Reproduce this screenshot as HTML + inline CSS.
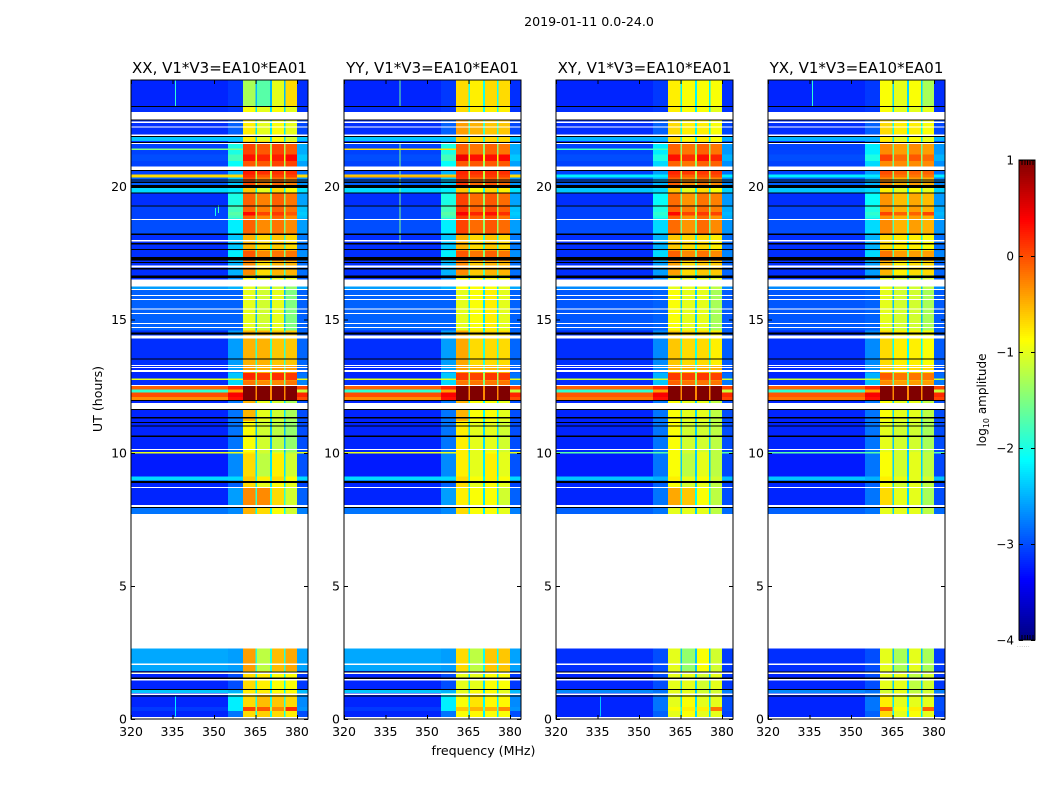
<!DOCTYPE html>
<html>
<head>
<meta charset="utf-8">
<title>2019-01-11 0.0-24.0</title>
<style>
html,body{margin:0;padding:0;background:#fff;width:1050px;height:800px;overflow:hidden}
svg{display:block}
text{font-family:"DejaVu Sans","Liberation Sans",sans-serif;fill:#000}
</style>
</head>
<body>
<svg id="chart" xmlns="http://www.w3.org/2000/svg" width="1050" height="800" viewBox="0 0 1050 800">
<text x="589" y="26" font-size="12.6" text-anchor="middle">2019-01-11 0.0-24.0</text>
<text x="483.5" y="755" font-size="12.6" text-anchor="middle">frequency (MHz)</text>
<text transform="translate(102,399) rotate(-90)" font-size="12.6" text-anchor="middle">UT (hours)</text>
<text transform="translate(986,400) rotate(-90)" font-size="12" text-anchor="middle">log<tspan font-size="8" dy="3">10</tspan><tspan dy="-3"> amplitude</tspan></text>
<text x="1017" y="647" font-size="5" letter-spacing="0.6" style="fill:#777">......</text>
</svg>
<script>
var panelTitles = ["XX, V1*V3=EA10*EA01","YY, V1*V3=EA10*EA01","XY, V1*V3=EA10*EA01","YX, V1*V3=EA10*EA01"];
var xTicks = [320,335,350,365,380];
var yTicks = [0,5,10,15,20];
var colorbarTicks = [1,0,-1,-2,-3,-4];
var colorbarMinorTicks = [1,2,3,4,5];
var freqRange = [320,384];
var hourRange = [0,24];
var levelRange = [-4,1];

// Frequency zones in MHz: background, transition, four sub-bands with narrow gaps, upper edge.
var zoneEdges = [320,355,360.5,365,365.6,370.3,371,375.4,375.9,380,384];
var zoneKinds = ["bg","tr","s0","gap","s1","gap","s2","gap","s3","edge"];

// Start hour of each time band; the last band ends at 24.
var rowStarts = [0,.3,.45,.98,1.09,1.8,2.65,7.7,8,8.72,8.95,9.1,9.97,10.03,11.2,11.97,12.1,12.27,12.37,12.53,12.7,12.74,12.78,13,13.3,14.6,16.15,16.5,16.68,17.2,17.6,18.2,18.8,18.92,19.05,19.3,19.77,19.96,20.33,20.45,20.76,20.95,21.2,21.6,21.7,21.88,22.8,23];

var backgroundCoPol = [-3.2,-3.1,-3.2,-2.4,-3.2,-2.55,-3.2,-2.8,-3.2,-3.2,-2.3,-3.25,-1,-3.2,-3.2,-.3,0,-1.9,-.1,-3.15,-3.15,-1,-3.2,-3.2,-3.15,-2.9,-2.6,-3.15,-3.15,-3.15,-3.15,-3,-3.05,-3.05,-3.05,-3.15,-2.3,-2.9,-.7,-3.05,-3.05,-3,-3.05,-3.15,-2.4,-3.15,-3.15,-3.2];
var backgroundCrossPol = [-3.2,-3.2,-3.2,-2.7,-3.2,-3.15,-3.2,-2.9,-3.2,-3.2,-2.4,-3.25,-1.7,-3.2,-3.2,-.2,-.05,-1.9,-.1,-3.15,-3.15,-1.1,-3.2,-3.2,-3.15,-2.95,-2.7,-3.15,-3.15,-3.15,-3.15,-3,-3.05,-3.05,-3.05,-3.15,-2.4,-2.9,-2.2,-3.05,-3.05,-3,-3.05,-3.15,-2.5,-3.15,-3.15,-3.2];
var transitionCoPol = [-2.8,-2.2,-2.2,-2.5,-3,-2.6,-2.8,-2.7,-2.6,-2.9,-2.3,-2.7,-1,-2.8,-2.8,.3,.4,-.4,.2,-2.3,-2.3,-1,-2.4,-2.6,-2.6,-2.9,-2.5,-2.7,-2.5,-2.2,-2.4,-2.2,-1.8,-1.7,-1.8,-2,-2.2,-2.4,-.7,-2.5,-2.1,-1.8,-2,-2.7,-2.4,-2.9,-3.1,-3.1];
var transitionCrossPol = [-2.9,-2.8,-2.8,-2.8,-3,-3,-2.9,-2.8,-2.8,-2.9,-2.5,-2.8,-1.7,-2.8,-2.8,.3,.4,-.4,.2,-2.4,-2.4,-1.1,-2.5,-2.7,-2.7,-2.9,-2.7,-2.7,-2.6,-2.3,-2.5,-2.3,-2,-1.9,-2,-2.1,-2.3,-2.5,-2.2,-2.6,-2.3,-2,-2.2,-2.8,-2.5,-2.9,-3.1,-3.1];

var subbandsXX = [[-.7,-.65,-.7,-.8],[.05,-.05,-.3,.15],[-.7,-.55,-.6,-.7],[-.8,-.8,-.9,-.9],[-.7,-.8,-.9,-.9],[-.4,-1.2,-.55,-.45],[-1,-1,-1,-1],[-.5,-.7,-.9,-1.1],[-.3,-.3,-.7,-1.1],[-.7,-1,-.9,-1],[-.6,-.8,-.7,-.9],[-.7,-1.2,-.8,-1.1],[-.8,-1.1,-1,-1.2],[-.9,-1.1,-1.2,-1.4],[-.5,-1,-1.1,-1.3],[1,1,1,1],[1,1,1,1],[1,1,1,1],[1,1,1,1],[-.2,-.3,-.3,-.2],[-.3,-.4,-.3,-.3],[.15,.1,.15,.1],[.2,.1,.15,.1],[-.4,-.5,-.4,-.4],[-.5,-.5,-.6,-.6],[-1,-1.1,-1,-1.5],[-1,-1.1,-1.1,-1.4],[-.9,-1,-1,-1],[-.3,-.7,-.5,-.5],[-.05,-.3,-.2,-.2],[-.5,-.7,-.6,-.7],[-.1,-.3,-.2,-.3],[-.1,-.3,-.1,-.3],[.35,.05,.1,-.05],[-.1,-.25,-.1,-.2],[-.1,-.25,-.1,-.2],[-.6,-1,-.7,-.9],[0,-.25,-.15,-.25],[.15,-.05,.05,.05],[.25,.15,.15,.15],[-.05,-.05,.05,.05],[.3,.2,.25,.35],[.05,-.05,.05,-.05],[-.6,-.7,-.7,-.8],[-.8,-1,-.9,-1.1],[-.8,-1,-.9,-1],[-.9,-1,-.9,-1],[-1.3,-1.7,-1,-.7]];
var subbandsYY = [[-.9,-.85,-.9,-.9],[-.6,-.5,-.5,-.3],[-.9,-.75,-.85,-.85],[-1,-.9,-.9,-1],[-1,-1,-.9,-.9],[-.7,-1.2,-.6,-.6],[-1,-1,-1,-1],[-.7,-.9,-.9,-1],[-.8,-.9,-.9,-1.1],[-.7,-1,-.9,-1],[-.7,-.9,-.8,-.9],[-.8,-1,-.8,-1],[-.8,-1,-.9,-1],[-.8,-1,-1,-1.1],[-.5,-.9,-.9,-1],[1,1,1,1],[1,1,1,1],[1,1,1,1],[1,1,1,1],[-.2,-.2,-.2,-.2],[-.3,-.3,-.3,-.3],[.1,.05,.1,.1],[.1,.05,.1,.1],[-.4,-.5,-.5,-.5],[-.45,-.7,-.7,-.7],[-1,-.9,-.8,-1],[-.9,-.9,-.9,-1],[-.9,-.9,-.9,-.9],[-.3,-.6,-.5,-.5],[-.05,-.2,-.1,-.2],[-.5,-.7,-.6,-.7],[.05,-.15,-.05,-.15],[.1,-.1,0,-.2],[.4,.2,.3,.15],[.1,-.1,0,-.1],[.05,-.15,-.05,-.15],[-.6,-.9,-.7,-.8],[.1,-.15,-.05,-.15],[.15,.05,.1,.05],[.2,.15,.15,.15],[-.05,-.05,-.05,-.05],[.45,.3,.3,.35],[-.1,-.2,-.1,-.2],[-.5,-.6,-.6,-.6],[-.6,-.7,-.7,-.7],[-.4,-.5,-.6,-.6],[-.7,-.8,-.8,-.8],[-.7,-.8,-.7,-.7]];
var subbandsXY = [[-1,-.9,-1,-1],[-.9,-.8,-.8,-.2],[-1,-.9,-1,-1],[-1,-1,-1.1,-1.1],[-1,-1,-1.1,-1],[-1,-1.4,-.9,-1.1],[-1,-1,-1,-1],[-1,-1,-1,-1.2],[-.45,-.6,-.9,-1.2],[-.9,-1.1,-1,-1.2],[-.8,-1,-.9,-1.1],[-.9,-1.2,-1,-1.2],[-.9,-1.1,-1,-1.2],[-.9,-1.1,-1.1,-1.2],[-.9,-1,-1,-1.2],[1,1,1,1],[1,1,1,1],[1,1,1,1],[1,1,1,1],[-.1,-.2,-.2,-.2],[-.2,-.3,-.2,-.3],[.1,.05,.1,.05],[.1,.05,.1,.05],[-.5,-.5,-.5,-.5],[-.6,-.7,-.7,-.8],[-.9,-1,-1,-1.3],[-1,-1,-1,-1.2],[-.9,-1,-1,-1],[-.4,-.7,-.6,-.6],[-.1,-.3,-.2,-.3],[-.6,-.7,-.7,-.8],[-.15,-.35,-.15,-.3],[-.1,-.35,-.15,-.35],[.35,.05,.1,.05],[-.1,-.25,-.15,-.25],[-.15,-.35,-.2,-.25],[-.6,-1,-.7,-.9],[-.1,-.3,-.2,-.3],[.1,-.1,0,0],[.2,.1,.1,.1],[-.1,-.2,-.1,-.1],[.3,.15,.3,.2],[-.1,-.2,-.1,-.2],[-.6,-.7,-.7,-.8],[-.7,-.9,-.8,-.9],[-.7,-.8,-.8,-.9],[-.8,-.9,-.9,-1],[-.8,-.9,-.9,-.9]];
var subbandsYX = [[-.7,-1,-.9,-1],[-.1,-.9,-.8,-.1],[-.8,-1,-1,-1],[-1.1,-1,-1.2,-1.1],[-1,-1,-1.2,-1.1],[-1,-1.3,-1,-1.3],[-1,-1,-1,-1],[-1,-1,-1,-1.2],[-.7,-1,-1,-1.3],[-.9,-1.1,-1,-1.2],[-.8,-1,-1,-1.1],[-.9,-1.1,-1,-1.2],[-.9,-1.1,-1,-1.2],[-1,-1.1,-1.1,-1.3],[-.9,-1,-1,-1.2],[1,1,1,1],[1,1,1,1],[1,1,1,1],[1,1,1,1],[-.3,-.4,-.4,-.4],[-.4,-.5,-.5,-.5],[-.1,-.2,-.2,-.2],[-.05,-.2,-.2,-.2],[-.6,-.7,-.7,-.7],[-.7,-.8,-.8,-.9],[-1,-1.1,-1.1,-1.3],[-1,-1.1,-1.1,-1.2],[-1,-1.1,-1.1,-1.1],[-.5,-.8,-.7,-.7],[-.2,-.4,-.4,-.4],[-.7,-.8,-.8,-.9],[-.3,-.5,-.4,-.5],[-.35,-.5,-.4,-.5],[.05,-.1,-.1,.05],[-.35,-.5,-.4,-.5],[-.35,-.55,-.45,-.55],[-.8,-1,-.9,-1],[-.3,-.5,-.4,-.5],[-.1,-.2,-.2,-.2],[0,-.1,-.1,-.1],[-.3,-.3,-.3,-.3],[.05,-.15,-.05,-.15],[-.3,-.4,-.3,-.4],[-.7,-.8,-.8,-.9],[-.8,-1,-.9,-1],[-.7,-.8,-.8,-.9],[-.9,-1,-1,-1],[-.9,-1,-.9,-1.3]];

// Flagged time ranges in hours, common to all four panels.
var whiteFlags = [[0,.08],[.9,.96],[1.45,1.5],[1.69,1.76],[2.03,2.08],[2.65,7.7],[7.97,8.03],[8.67,8.72],[10.1,10.14],[11.63,11.86],[12.52,12.55],[13.04,13.1],[13.19,13.22],[13.25,13.29],[14.3,14.4],[14.7,14.73],[14.85,14.88],[15.22,15.25],[15.38,15.41],[15.74,15.77],[15.89,15.92],[16.12,16.15],[16.25,16.5],[16.96,17.04],[17.93,18],[18.74,18.78],[20.6,20.76],[21.6,21.65],[21.88,21.96],[22.22,22.25],[22.39,22.44],[22.52,22.8]];
var blackFlags = [[.85,.89],[1.08,1.12],[1.51,1.55],[1.75,1.79],[7.93,7.97],[8.87,8.93],[10.6,10.64],[10.98,11.02],[11.11,11.15],[11.28,11.34],[11.6,11.64],[11.95,11.99],[13.5,13.54],[14.44,14.52],[16.57,16.66],[16.89,16.93],[17.12,17.16],[17.22,17.35],[17.62,17.66],[17.83,17.87],[18.17,18.24],[19.24,19.28],[19.74,19.78],[19.95,20.06],[20.14,20.18],[20.23,20.27],[20.58,20.62],[21.64,21.68],[21.86,21.9],[22.48,22.52],[22.98,23.02]];

// Narrow vertical interference lines: [panel, MHz, start hour, end hour, log amplitude].
var verticalLines = [[0,335.9,23,24,-1.9],[0,335.9,.1,.85,-2.2],[0,350.3,18.9,19.2,-2],[1,340,23,24,-1.6],[1,340,17.9,21.6,-1.5],[3,335.9,23,24,-1.9],[0,351.5,19,19.3,-1.8],[2,335.9,.1,.85,-2.4]];
// Narrow horizontal interference lines below the sub-bands: [panel, start hour, end hour, log amplitude].
var horizontalLines = [[0,21.38,21.43,-1.5],[1,21.38,21.43,-.7],[2,21.38,21.43,-1.8],[1,20.33,20.42,-.5]];

var panelLefts = [131,344,556,768];
var plotWidth = 177;
var plotTop = 80;
var plotBottom = 719;
var barLeft = 1019;
var barWidth = 16;
var barTop = 160;
var barBottom = 640;

var pols = [subbandsXX,subbandsYY,subbandsXY,subbandsYX];
var backgrounds = [backgroundCoPol,backgroundCoPol,backgroundCrossPol,backgroundCrossPol];
var transitions = [transitionCoPol,transitionCoPol,transitionCrossPol,transitionCrossPol];
var svg = document.getElementById('chart');
var NS = 'http://www.w3.org/2000/svg';

function xScale(p,f){return panelLefts[p]+(f-freqRange[0])*plotWidth/(freqRange[1]-freqRange[0]);}
function yScale(h){return plotBottom-(h-hourRange[0])*(plotBottom-plotTop)/(hourRange[1]-hourRange[0]);}
function barScale(v){return barBottom-(v-levelRange[0])*(barBottom-barTop)/(levelRange[1]-levelRange[0]);}
function clip(v){return Math.max(0,Math.min(1,v));}
function jet(v){
  var t=clip((v-levelRange[0])/(levelRange[1]-levelRange[0]));
  var r=clip(1.5-Math.abs(4*t-3)),g=clip(1.5-Math.abs(4*t-2)),b=clip(1.5-Math.abs(4*t-1));
  return 'rgb('+Math.round(r*255)+','+Math.round(g*255)+','+Math.round(b*255)+')';
}
function rect(parent,x,y,w,h,fill){
  var el=document.createElementNS(NS,'rect');
  el.setAttribute('x',x);el.setAttribute('y',y);el.setAttribute('width',w);el.setAttribute('height',h);
  el.setAttribute('fill',fill);el.setAttribute('shape-rendering','crispEdges');
  parent.appendChild(el);
  return el;
}
function label(parent,x,y,str,size,anchor){
  var el=document.createElementNS(NS,'text');
  el.setAttribute('x',x);el.setAttribute('y',y);el.setAttribute('font-size',size);el.setAttribute('text-anchor',anchor);
  el.textContent=str;
  parent.appendChild(el);
  return el;
}
function zoneLevel(kind,p,r){
  var s=pols[p][r],bg=backgrounds[p][r],tr=transitions[p][r];
  if(kind==='bg')return bg;
  if(kind==='tr')return tr;
  if(kind==='edge')return (bg+tr)/2;
  if(kind==='gap')return (s[0]+s[1]+s[2]+s[3])/4-1.3;
  return s[+kind.charAt(1)];
}

panelTitles.forEach(function(title,p){
  var g=document.createElementNS(NS,'g');
  
  
  svg.appendChild(g);

  rowStarts.forEach(function(start,r){
    var end=r+1<rowStarts.length?rowStarts[r+1]:hourRange[1];
    zoneKinds.forEach(function(kind,z){
      var x0=xScale(p,zoneEdges[z]),x1=xScale(p,zoneEdges[z+1]);
      var y0=yScale(end),y1=yScale(start);
      var cell=rect(g,x0,y0,x1-x0,y1-y0,jet(zoneLevel(kind,p,r)));
      
      
    });
  });

  verticalLines.forEach(function(l){
    if(l[0]!==p)return;
    var line=rect(g,xScale(p,l[1]),yScale(l[3]),1,yScale(l[2])-yScale(l[3]),jet(l[4]));
    
    
  });
  horizontalLines.forEach(function(l){
    if(l[0]!==p)return;
    var line=rect(g,xScale(p,freqRange[0]),yScale(l[2]),xScale(p,zoneEdges[2])-xScale(p,freqRange[0]),Math.max(1,yScale(l[1])-yScale(l[2])),jet(l[3]));
    
    
  });

  whiteFlags.forEach(function(f){
    var band=rect(g,panelLefts[p],yScale(f[1]),plotWidth,Math.max(1,yScale(f[0])-yScale(f[1])),'#fff');
    
    
  });
  blackFlags.forEach(function(f){
    var band=rect(g,panelLefts[p],yScale(f[1]),plotWidth,Math.max(1,yScale(f[0])-yScale(f[1])),'#000');
    
    
  });

  var frame=rect(g,panelLefts[p],plotTop,plotWidth,plotBottom-plotTop,'none');
  frame.setAttribute('stroke','#000');
  frame.setAttribute('stroke-width','1.4');
  
  

  var t=label(g,panelLefts[p]+plotWidth/2,73,title,15,'middle');
  
  

  xTicks.forEach(function(v){
    var x=xScale(p,v);
    var tb=rect(g,x,plotBottom-4,1,4,'#000');
    
    
    var tt=rect(g,x,plotTop,1,4,'#000');
    
    
    var tl=label(g,x,736,String(v),12.5,'middle');
    
    
  });
  yTicks.forEach(function(v){
    var y=yScale(v);
    var tl=rect(g,panelLefts[p],y,4,1,'#000');
    
    
    var tr=rect(g,panelLefts[p]+plotWidth-4,y,4,1,'#000');
    
    
    var lb=label(g,panelLefts[p]-4,y+4.5,String(v),12.5,'end');
    
    
  });
});

var bar=document.createElementNS(NS,'g');


svg.appendChild(bar);
for(var py=barTop;py<barBottom;py+=2){
  var lvl=levelRange[1]-(py+1-barTop)*(levelRange[1]-levelRange[0])/(barBottom-barTop);
  var seg=rect(bar,barLeft,py,barWidth,2,jet(lvl));
  
  
}
var barFrame=rect(bar,barLeft,barTop,barWidth,barBottom-barTop,'none');
barFrame.setAttribute('stroke','#000');
barFrame.setAttribute('stroke-width','1.2');


colorbarMinorTicks.forEach(function(n){
  var x=barLeft+n*barWidth/(colorbarMinorTicks.length+1);
  var a=rect(bar,x,barTop,1,5,'#000');
  
  
  var b=rect(bar,x,barBottom-5,1,5,'#000');
  
  
});
colorbarTicks.forEach(function(v){
  var y=barScale(v);
  var a=rect(bar,barLeft,y,4,1,'#000');
  
  
  var b=rect(bar,barLeft+barWidth-4,y,4,1,'#000');
  
  
  var lb=label(bar,barLeft-5,y+4.5,String(v).replace('-','\u2212'),12,'end');
  
  
});
</script>
</body>
</html>
